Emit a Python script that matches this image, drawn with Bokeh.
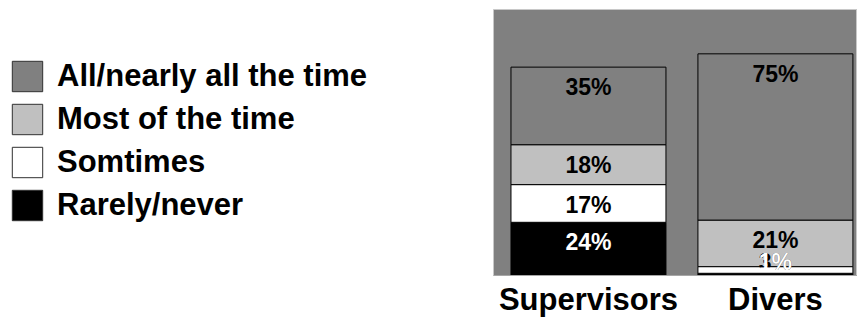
from bokeh.plotting import figure
from bokeh.models import ColumnDataSource, Range1d, Legend, LegendItem, FixedTicker
from bokeh.layouts import row
from bokeh.embed import file_html
from bokeh.resources import INLINE
from bokeh.core.properties import value

categories = ["Supervisors", "Divers"]
series_names = ["Rarely/never", "Somtimes", "Most of the time", "All/nearly all the time"]
rarely = [24, 1]
sometimes = [17, 3]
most = [18, 21]
all_time = [35, 75]
series_values = [rarely, sometimes, most, all_time]
colors = ["#000000", "#ffffff", "#c0c0c0", "#808080"]
label_colors = ["#ffffff", "#000000", "#000000", "#000000"]

FONT = "Liberation Sans"
xs = list(range(len(categories)))

p = figure(width=364, height=319, x_range=Range1d(-0.508, 1.439), y_range=Range1d(0, 120),
           output_backend="svg", toolbar_location=None, y_axis_location=None,
           min_border_left=0, min_border_right=0, min_border_top=9, min_border_bottom=43)
p.background_fill_color = "#808080"
p.border_fill_color = "white"
p.outline_line_color = "#c8c8c8"
p.grid.visible = False

bottoms = [0] * len(xs)
lab_x, lab_y, lab_t, lab_c = [], [], [], []
for name, vals, col, lc in zip(series_names, series_values, colors, label_colors):
    tops = [b + v for b, v in zip(bottoms, vals)]
    src = ColumnDataSource(dict(x=xs, bottom=bottoms, top=tops))
    p.vbar(x="x", bottom="bottom", top="top", width=0.829, source=src,
           fill_color=col, line_color="black", line_width=1)
    for i, (t, v) in enumerate(zip(tops, vals)):
        lab_x.append(xs[i])
        lab_y.append(max(t, 15))
        lab_t.append(f"{v}%")
        lab_c.append(lc)
    bottoms = tops

# draw labels top segment first so lower ones overlay
n = len(xs)
order = []
for k in reversed(range(len(series_names))):
    order.extend(range(k * n, k * n + n))
lsrc = ColumnDataSource(dict(x=[lab_x[j] for j in order], y=[lab_y[j] for j in order],
                             t=[lab_t[j] for j in order], c=[lab_c[j] for j in order]))
p.text(x="x", y="y", text="t", text_color="c", source=lsrc, y_offset=20,
       text_align="center", text_baseline="middle", text_font=value(FONT),
       text_font_style="bold", text_font_size="23px")

p.xaxis.ticker = FixedTicker(ticks=xs)
p.xaxis.major_label_overrides = {i: c for i, c in enumerate(categories)}
p.xaxis.major_tick_line_color = None
p.xaxis.minor_tick_line_color = None
p.xaxis.axis_line_color = "#a6a6a6"
p.xaxis.major_label_text_font = FONT
p.xaxis.major_label_text_font_style = "bold"
p.xaxis.major_label_text_font_size = "31px"
p.xaxis.major_label_text_color = "black"
p.xaxis.major_label_standoff = 0

leg = figure(width=493, height=319, x_range=Range1d(0, 1), y_range=Range1d(0, 1),
             output_backend="svg", toolbar_location=None, x_axis_location=None, y_axis_location=None,
             min_border_left=0, min_border_top=9, min_border_right=0, min_border_bottom=43)
leg.outline_line_color = None
leg.grid.visible = False
items = []
for name, col in zip(series_names, colors):
    # legend swatch renderers, kept outside the visible range
    r = leg.vbar(x=[5], top=[5], bottom=[4], width=1, fill_color=col, line_color="#303030", line_width=1)
    items.append(LegendItem(label=name, renderers=[r]))
items = items[::-1]
legend = Legend(items=items, location=(8, 51), margin=0, padding=0, glyph_width=38, glyph_height=38,
                label_standoff=11, spacing=5, label_text_font=FONT, label_text_font_style="bold",
                label_text_font_size="31px", label_text_color="black",
                border_line_color=None, background_fill_alpha=0)
leg.add_layout(legend)

layout = row(leg, p)
open("out.html", "w").write(file_html(layout, INLINE))
